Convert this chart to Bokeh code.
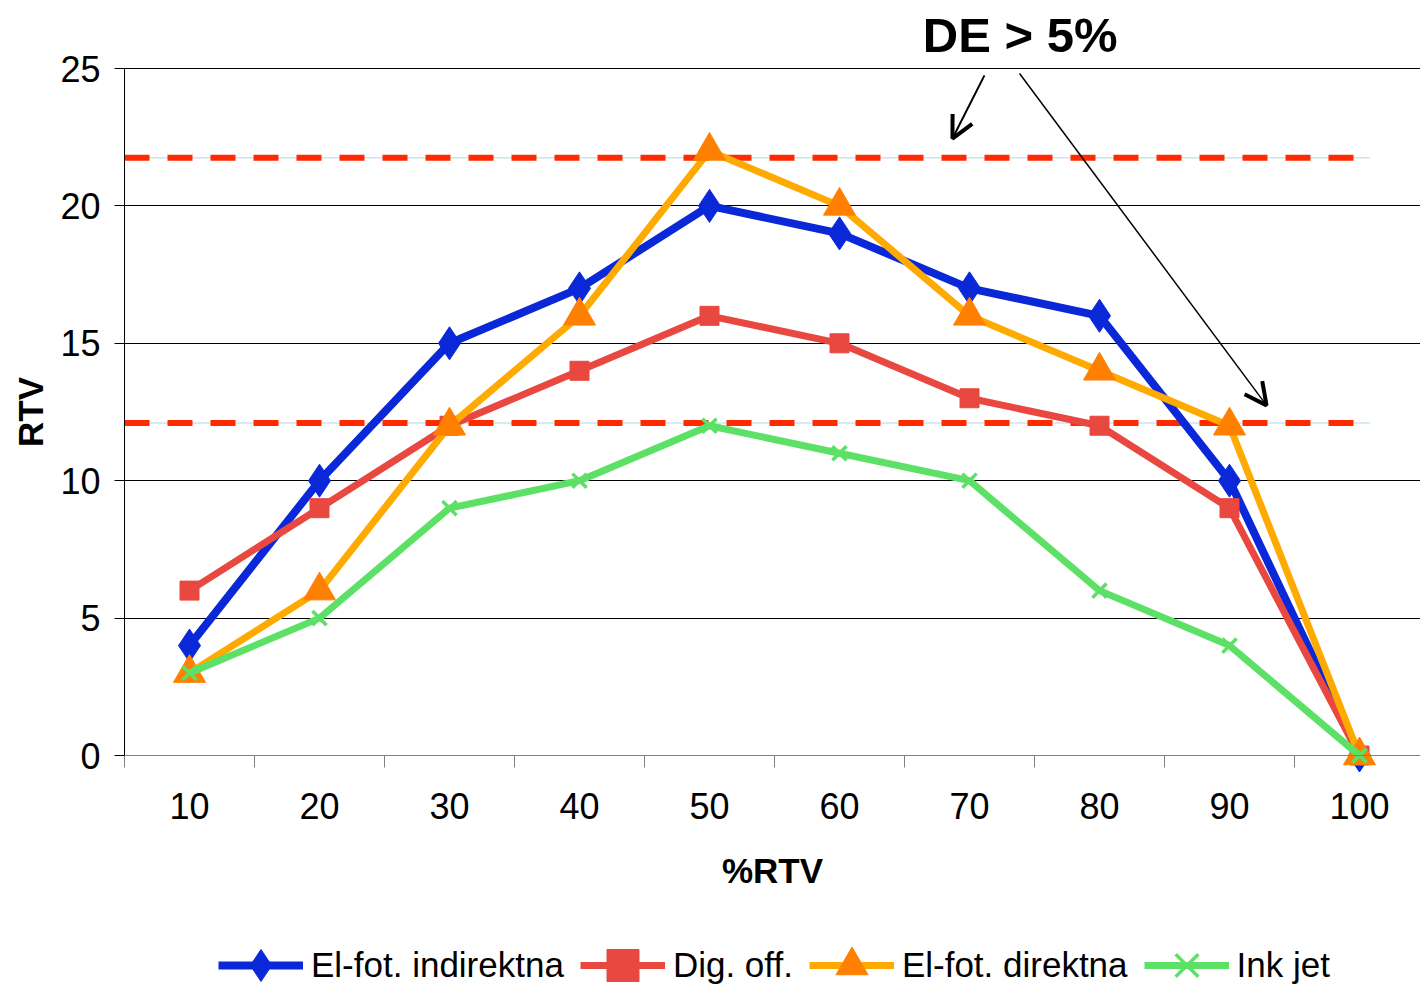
import math
from bokeh.plotting import figure
from bokeh.models import (Range1d, FixedTicker, Legend, LegendItem, Arrow, OpenHead,
                          Label, ColumnDataSource)
from bokeh.embed import file_html
from bokeh.resources import INLINE

# ---- data ----
categories = [10, 20, 30, 40, 50, 60, 70, 80, 90, 100]
el_fot_indirektna = [4, 10, 15, 17, 20, 19, 17, 16, 10, 0]
dig_off = [6, 9, 12, 14, 16, 15, 13, 12, 9, 0]
el_fot_direktna = [3, 6, 12, 16, 22, 20, 16, 14, 12, 0]
ink_jet = [3, 5, 9, 10, 12, 11, 10, 6, 4, 0]
thresholds = [21.75, 12.1]
threshold_x = [5, 100.8]
y_ticks = [0, 5, 10, 15, 20, 25]

FONT = "Liberation Sans"
PX_PER_Y = 687 / 25.0
PX_PER_X = 13.0
X_END = 5 + 1296 / PX_PER_X

p = figure(width=1420, height=987, output_backend="svg", toolbar_location=None,
           x_range=Range1d(5 - 124 / PX_PER_X, X_END),
           y_range=Range1d(-232 / PX_PER_Y, 25 + 68 / PX_PER_Y),
           min_border_left=0, min_border_right=0, min_border_top=0,
           min_border_bottom=0)
p.outline_line_color = None
p.background_fill_color = "white"
p.border_fill_color = "white"

# grid
p.xgrid.grid_line_color = None
p.ygrid.ticker = FixedTicker(ticks=y_ticks[1:])
p.ygrid.grid_line_color = "black"
p.ygrid.grid_line_width = 1
p.ygrid.cross_bounds = (5, X_END)

# x axis (fixed at y = 0)
xa = p.xaxis[0]
xa.fixed_location = 0
xa.bounds = (5, X_END)
xa.ticker = FixedTicker(ticks=categories, minor_ticks=[c - 5 for c in categories])
xa.major_tick_line_color = None
xa.major_tick_out = 0
xa.major_tick_in = 0
xa.minor_tick_out = 12
xa.minor_tick_in = 0
xa.minor_tick_line_color = "#808080"
xa.axis_line_color = "#808080"
xa.major_label_text_font = FONT
xa.major_label_text_font_size = "36px"
xa.major_label_text_color = "black"
xa.major_label_standoff = 25
xa.axis_label = "%RTV"
xa.axis_label_text_font = FONT
xa.axis_label_text_font_style = "bold"
xa.axis_label_text_font_size = "35px"
xa.axis_label_text_color = "black"
xa.axis_label_standoff = 29

# y axis (fixed at x = 5)
ya = p.yaxis[0]
ya.fixed_location = 5
ya.ticker = FixedTicker(ticks=y_ticks)
ya.bounds = (0, 25)
ya.major_tick_out = 10
ya.major_tick_in = 0
ya.minor_tick_line_color = None
ya.axis_line_color = "black"
ya.major_tick_line_color = "black"
ya.major_label_text_font = FONT
ya.major_label_text_font_size = "36px"
ya.major_label_text_color = "black"
ya.major_label_standoff = 14

p.add_layout(Label(x=5 - 94 / PX_PER_X, y=12.5, text="RTV", angle=math.pi / 2,
                   text_font=FONT, text_font_style="bold", text_font_size="35px",
                   text_align="center", text_baseline="middle", text_color="black"))

# threshold lines
for t in thresholds:
    p.line(threshold_x, [t, t], line_color="#c8e6ec", line_width=1.5)
    p.line(threshold_x, [t, t], line_color="#FF2A00", line_width=6, line_dash="25 18")

src = ColumnDataSource(dict(x=categories, a=el_fot_indirektna, b=dig_off,
                            c=el_fot_direktna, d=ink_jet))

l1 = p.line("x", "a", source=src, line_color="#0A28D8", line_width=8)
m1 = p.scatter("x", "a", source=src, marker="diamond", size=33,
               fill_color="#0A28D8", line_color="#0A28D8")
l2 = p.line("x", "b", source=src, line_color="#E84840", line_width=7)
m2 = p.scatter("x", "b", source=src, marker="square", size=19,
               fill_color="#E84840", line_color="#E84840")
l3 = p.line("x", "c", source=src, line_color="#FFAA00", line_width=7)
m3 = p.scatter("x", "c", source=src, marker="triangle", size=32,
               fill_color="#FF8000", line_color="#FF8000")
l4 = p.line("x", "d", source=src, line_color="#5CE066", line_width=7)
m4 = p.scatter("x", "d", source=src, marker="x", size=20,
               line_color="#5CE066", line_width=3.5)

legend = Legend(items=[
    LegendItem(label="El-fot. indirektna", renderers=[l1, m1]),
    LegendItem(label="Dig. off.", renderers=[l2, m2]),
    LegendItem(label="El-fot. direktna", renderers=[l3, m3]),
    LegendItem(label="Ink jet", renderers=[l4, m4]),
], orientation="horizontal", location=(218, -18))
legend.glyph_width = 85
legend.glyph_height = 80
legend.label_standoff = 8
legend.spacing = 16
legend.padding = 0
legend.margin = 0
legend.border_line_color = None
legend.background_fill_alpha = 0
legend.label_text_font = FONT
legend.label_text_font_size = "35px"
legend.label_text_color = "black"
p.add_layout(legend, "center")

# annotation
p.add_layout(Label(x=73.9, y=25.58 + 18 / PX_PER_Y, text="DE > 5%", text_font=FONT,
                   text_font_style="bold", text_font_size="49px", text_align="center",
                   text_baseline="alphabetic", text_color="black"))
p.add_layout(Arrow(x_start=71.15, y_start=24.75, x_end=68.69, y_end=22.45,
                   line_width=2, line_color="black",
                   end=OpenHead(size=22, line_width=4, line_color="black")))
p.add_layout(Arrow(x_start=73.85, y_start=24.82, x_end=92.85, y_end=12.74,
                   line_width=1.5, line_color="black",
                   end=OpenHead(size=22, line_width=4, line_color="black")))

open("out.html", "w").write(file_html(p, INLINE))
